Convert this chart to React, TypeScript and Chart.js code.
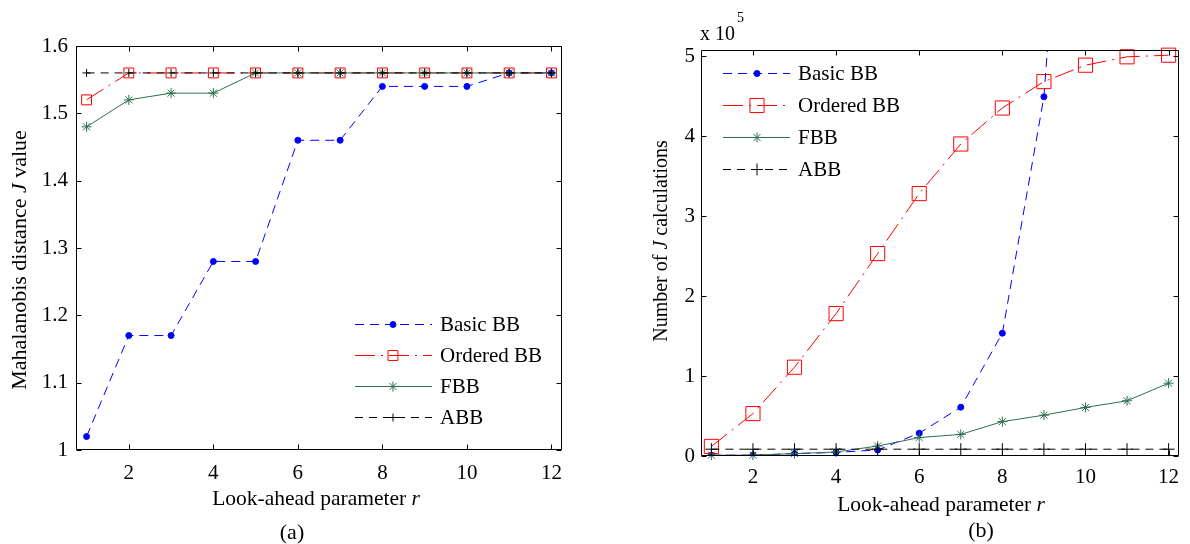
import React, { useEffect, useRef } from 'react';
import { Chart, registerables } from 'chart.js';

Chart.register(...registerables);

// ---------- shared ----------
const rValues = [1, 2, 3, 4, 5, 6, 7, 8, 9, 10, 11, 12];
const xTickValues = [2, 4, 6, 8, 10, 12];
const xTickLabels = ['2', '4', '6', '8', '10', '12'];
const seriesNames = ['Basic BB', 'Ordered BB', 'FBB', 'ABB'];

// ---------- (a) Mahalanobis distance J ----------
const jBasicBB = [1.02, 1.17, 1.17, 1.28, 1.28, 1.46, 1.46, 1.54, 1.54, 1.54, 1.56, 1.56];
const jOrderedBB = [1.52, 1.56, 1.56, 1.56, 1.56, 1.56, 1.56, 1.56, 1.56, 1.56, 1.56, 1.56];
const jFBB = [1.48, 1.52, 1.53, 1.53, 1.56, 1.56, 1.56, 1.56, 1.56, 1.56, 1.56, 1.56];
const jABB = [1.56, 1.56, 1.56, 1.56, 1.56, 1.56, 1.56, 1.56, 1.56, 1.56, 1.56, 1.56];
const yTickValuesA = [1, 1.1, 1.2, 1.3, 1.4, 1.5, 1.6];
const yTickLabelsA = ['1', '1.1', '1.2', '1.3', '1.4', '1.5', '1.6'];

// ---------- (b) Number of J calculations (x 10^5) ----------
const nBasicBB = [0.01, 0.01, 0.03, 0.045, 0.075, 0.285, 0.61, 1.535, 4.49, 11.5, 25, 50];
const nOrderedBB = [0.12, 0.53, 1.11, 1.78, 2.53, 3.28, 3.9, 4.35, 4.68, 4.885, 4.99, 5.01];
const nFBB = [0.01, 0.01, 0.03, 0.05, 0.125, 0.23, 0.27, 0.43, 0.51, 0.607, 0.69, 0.91];
const nABB = [0.085, 0.085, 0.085, 0.085, 0.085, 0.085, 0.085, 0.085, 0.085, 0.085, 0.085, 0.085];
const yTickValuesB = [0, 1, 2, 3, 4, 5];
const yTickLabelsB = ['0', '1', '2', '3', '4', '5'];

const SERIF = '"Liberation Serif", "Times New Roman", serif';

type Part = [string, boolean];

function drawParts(ctx: CanvasRenderingContext2D, parts: Part[], size: number, cx: number, cy: number, angle: number, baseline: CanvasTextBaseline) {
  ctx.save();
  ctx.translate(cx, cy);
  ctx.rotate(angle);
  const fonts = parts.map(([, it]) => `${it ? 'italic ' : ''}${size}px ${SERIF}`);
  const widths = parts.map(([t], i) => {
    ctx.font = fonts[i];
    return ctx.measureText(t).width;
  });
  const total = widths.reduce((a, b) => a + b, 0);
  let x = -total / 2;
  ctx.textAlign = 'left';
  ctx.textBaseline = baseline;
  ctx.fillStyle = '#000';
  parts.forEach(([t], i) => {
    ctx.font = fonts[i];
    ctx.fillText(t, x, 0);
    x += widths[i];
  });
  ctx.restore();
}

function drawMarker(ctx: CanvasRenderingContext2D, style: string, r: number, x: number, y: number, color: string, fill: boolean) {
  ctx.save();
  ctx.setLineDash([]);
  ctx.strokeStyle = color;
  ctx.fillStyle = color;
  ctx.lineWidth = 1;
  ctx.beginPath();
  if (style === 'circle') {
    ctx.arc(x, y, r, 0, Math.PI * 2);
    if (fill) ctx.fill();
    ctx.stroke();
  } else if (style === 'rect') {
    const s = Math.SQRT1_2 * r;
    ctx.rect(x - s, y - s, 2 * s, 2 * s);
    ctx.stroke();
  } else if (style === 'cross' || style === 'star') {
    ctx.moveTo(x - r, y);
    ctx.lineTo(x + r, y);
    ctx.moveTo(x, y - r);
    ctx.lineTo(x, y + r);
    if (style === 'star') {
      const d = r * Math.SQRT1_2;
      ctx.moveTo(x - d, y - d);
      ctx.lineTo(x + d, y + d);
      ctx.moveTo(x - d, y + d);
      ctx.lineTo(x + d, y - d);
    }
    ctx.stroke();
  }
  ctx.restore();
}

type PanelCfg = {
  pageLeft: number;
  width: number;
  height: number;
  areaLeft: number;
  areaRight: number;
  areaTop: number;
  areaBottom: number;
  yMin: number;
  yMax: number;
  series: number[][];
  yTickValues: number[];
  yTickLabels: string[];
  yTickPad: number;
  xTickPad: number;
  markerR: { circle: number; rect: number; star: number; cross: number };
  yTitle: Part[];
  yTitleSize: number;
  yTitleX: number;
  yTitleY: number;
  xTitleX: number;
  xTitleY: number;
  subLabel: string;
  subX: number;
  subY: number;
  legend: { lineX0: number; lineX1: number; markerX: number; textX: number; rows: number[] };
  exponent?: { x: number; y: number };
};

const COLORS = ['#0000ff', '#ff0000', '#2e6e50', '#000000'];
const DASHES = [[9, 6], [20, 6, 2, 6], [], [8, 6]];
const STYLES = ['circle', 'rect', 'star', 'cross'];

function Panel({ cfg }: { cfg: PanelCfg }) {
  const ref = useRef<HTMLCanvasElement | null>(null);
  useEffect(() => {
    const canvas = ref.current;
    if (!canvas) return;
    const radii = [cfg.markerR.circle, cfg.markerR.rect, cfg.markerR.star, cfg.markerR.cross];
    const datasets = cfg.series.map((arr, i) => ({
      label: seriesNames[i],
      data: rValues.map((r, k) => ({ x: r, y: arr[k] })),
      borderColor: COLORS[i],
      backgroundColor: COLORS[i],
      borderWidth: 1,
      borderDash: DASHES[i],
      tension: 0,
      pointStyle: STYLES[i] as any,
      pointRadius: radii[i],
      pointBorderColor: COLORS[i],
      pointBackgroundColor: i === 0 ? COLORS[i] : 'rgba(0,0,0,0)',
      pointBorderWidth: 1,
      order: 3 - i,
      clip: i === 0 ? 0 : (false as any),
    }));

    const decor = {
      id: 'decor',
      afterDatasetsDraw(chart: any) {
        const ctx: CanvasRenderingContext2D = chart.ctx;
        const a = chart.chartArea;
        const xs = chart.scales.x;
        const ys = chart.scales.y;
        ctx.save();
        ctx.setLineDash([]);
        ctx.strokeStyle = '#000';
        ctx.lineWidth = 1;
        const L = Math.round(a.left) + 0.5;
        const R = Math.round(a.right) - 0.5;
        const T = Math.round(a.top) + 0.5;
        const B = Math.round(a.bottom) - 0.5;
        ctx.beginPath();
        ctx.rect(L, T, R - L, B - T);
        const tl = 5;
        xTickValues.forEach((v) => {
          const px = Math.round(xs.getPixelForValue(v)) + 0.5;
          ctx.moveTo(px, B);
          ctx.lineTo(px, B - tl);
          ctx.moveTo(px, T);
          ctx.lineTo(px, T + tl);
        });
        cfg.yTickValues.forEach((v) => {
          const py = Math.round(ys.getPixelForValue(v)) + 0.5;
          ctx.moveTo(L, py);
          ctx.lineTo(L + tl, py);
          ctx.moveTo(R, py);
          ctx.lineTo(R - tl, py);
        });
        ctx.stroke();
        ctx.restore();

        // legend
        const lg = cfg.legend;
        cfg.series.forEach((_, i) => {
          const y = lg.rows[i];
          ctx.save();
          ctx.strokeStyle = COLORS[i];
          ctx.lineWidth = 1;
          ctx.setLineDash(DASHES[i]);
          ctx.beginPath();
          ctx.moveTo(lg.lineX0, y + 0.5);
          ctx.lineTo(lg.lineX1, y + 0.5);
          ctx.stroke();
          ctx.restore();
          drawMarker(ctx, STYLES[i], radii[i], lg.markerX, y + 0.5, COLORS[i], i === 0);
          ctx.save();
          ctx.font = `21px ${SERIF}`;
          ctx.fillStyle = '#000';
          ctx.textAlign = 'left';
          ctx.textBaseline = 'middle';
          ctx.fillText(seriesNames[i], lg.textX, y + 1);
          ctx.restore();
        });

        // titles
        drawParts(ctx, [['Look-ahead parameter ', false], ['r', true]], 21.5, cfg.xTitleX, cfg.xTitleY, 0, 'alphabetic');
        drawParts(ctx, cfg.yTitle, cfg.yTitleSize, cfg.yTitleX, cfg.yTitleY, -Math.PI / 2, 'middle');
        drawParts(ctx, [[cfg.subLabel, false]], 22, cfg.subX, cfg.subY, 0, 'alphabetic');
        if (cfg.exponent) {
          ctx.save();
          ctx.fillStyle = '#000';
          ctx.textAlign = 'left';
          ctx.textBaseline = 'alphabetic';
          ctx.font = `20px ${SERIF}`;
          ctx.fillText('x 10', cfg.exponent.x, cfg.exponent.y);
          const w = ctx.measureText('x 10').width;
          ctx.font = `14px ${SERIF}`;
          ctx.fillText('5', cfg.exponent.x + w + 2, cfg.exponent.y - 18);
          ctx.restore();
        }
      },
    };

    const chart = new Chart(canvas, {
      type: 'line',
      data: { datasets: datasets as any },
      options: {
        animation: false,
        responsive: false,
        maintainAspectRatio: false,
        events: [],
        layout: {
          padding: {
            left: 0,
            right: cfg.width - cfg.areaRight,
            top: cfg.areaTop,
            bottom: 0,
          },
        },
        plugins: { legend: { display: false }, tooltip: { enabled: false } },
        scales: {
          x: {
            type: 'linear',
            min: 0.75,
            max: 12.25,
            grid: { display: false, drawTicks: false },
            border: { display: false },
            afterBuildTicks: (s: any) => {
              s.ticks = xTickValues.map((v) => ({ value: v }));
            },
            afterFit: (s: any) => {
              s.height = cfg.height - cfg.areaBottom;
            },
            ticks: {
              autoSkip: false,
              maxRotation: 0,
              padding: cfg.xTickPad,
              color: '#000',
              font: { family: SERIF, size: 21 },
              callback: (_v: any, i: number) => xTickLabels[i],
            },
          },
          y: {
            type: 'linear',
            min: cfg.yMin,
            max: cfg.yMax,
            grid: { display: false, drawTicks: false },
            border: { display: false },
            afterBuildTicks: (s: any) => {
              s.ticks = cfg.yTickValues.map((v) => ({ value: v }));
            },
            afterFit: (s: any) => {
              s.width = cfg.areaLeft;
            },
            ticks: {
              autoSkip: false,
              padding: cfg.yTickPad,
              color: '#000',
              font: { family: SERIF, size: 21 },
              callback: (_v: any, i: number) => cfg.yTickLabels[i],
            },
          },
        },
      },
      plugins: [decor],
    });
    return () => chart.destroy();
  }, [cfg]);

  return (
    <canvas
      ref={ref}
      width={cfg.width}
      height={cfg.height}
      style={{ position: 'absolute', left: cfg.pageLeft, top: 0, width: cfg.width, height: cfg.height }}
    />
  );
}

const cfgA: PanelCfg = {
  pageLeft: 0,
  width: 595,
  height: 544,
  areaLeft: 76,
  areaRight: 562,
  areaTop: 46,
  areaBottom: 450,
  yMin: 1,
  yMax: 1.6,
  series: [jBasicBB, jOrderedBB, jFBB, jABB],
  yTickValues: yTickValuesA,
  yTickLabels: yTickLabelsA,
  yTickPad: 8,
  xTickPad: 11,
  markerR: { circle: 3, rect: 7, star: 5, cross: 4 },
  yTitle: [['Mahalanobis distance ', false], ['J', true], [' value', false]],
  yTitleSize: 22,
  yTitleX: 20,
  yTitleY: 260,
  xTitleX: 316,
  xTitleY: 505,
  subLabel: '(a)',
  subX: 292,
  subY: 539,
  legend: { lineX0: 355, lineX1: 432, markerX: 393, textX: 440, rows: [324, 355, 386, 417] },
};

const B0 = 595;
const cfgB: PanelCfg = {
  pageLeft: B0,
  width: 595,
  height: 544,
  areaLeft: 701 - B0,
  areaRight: 1186 - B0,
  areaTop: 50,
  areaBottom: 456,
  yMin: 0,
  yMax: 5.075,
  series: [nBasicBB, nOrderedBB, nFBB, nABB],
  yTickValues: yTickValuesB,
  yTickLabels: yTickLabelsB,
  yTickPad: 6,
  xTickPad: 9,
  markerR: { circle: 3, rect: 10, star: 5, cross: 6 },
  yTitle: [['Number of ', false], ['J', true], [' calculations', false]],
  yTitleSize: 20,
  yTitleX: 662 - B0,
  yTitleY: 241,
  xTitleX: 941 - B0,
  xTitleY: 511,
  subLabel: '(b)',
  subX: 981 - B0,
  subY: 537,
  legend: { lineX0: 723 - B0, lineX1: 790 - B0, markerX: 757 - B0, textX: 798 - B0, rows: [73, 105, 137, 169] },
  exponent: { x: 700 - B0, y: 40 },
};

export default function App() {
  useEffect(() => {
    document.body.style.margin = '0';
    document.body.style.background = '#fff';
  }, []);
  return (
    <div style={{ position: 'absolute', left: 0, top: 0, width: 1190, height: 544, background: '#fff' }}>
      <Panel cfg={cfgA} />
      <Panel cfg={cfgB} />
    </div>
  );
}
